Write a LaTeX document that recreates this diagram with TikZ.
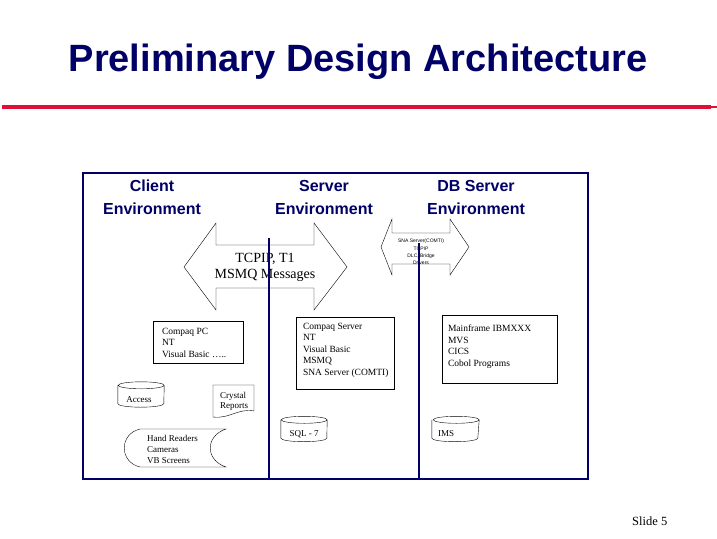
\documentclass[tikz,border=0pt]{standalone}
\usepackage{fontspec}
\setmainfont{Liberation Serif}
\setsansfont{Liberation Sans}
\usetikzlibrary{positioning}
\definecolor{azul}{RGB}{0,0,102}
\definecolor{rojo}{RGB}{222,16,56}

\begin{document}
\begin{tikzpicture}[x=1pt, y=-1pt,
    caja/.style={draw, rectangle, inner sep=0pt},
    texto/.style={align=left, inner sep=0pt, font=\fontsize{9.5}{11.5}\selectfont},
    encabezado/.style={text=azul, align=center, font=\sffamily\bfseries\fontsize{16}{23}\selectfont},
    base/.style={rectangle, minimum width=46pt, minimum height=25pt, inner sep=0pt},
    divisor/.style={draw=azul, line width=2pt}]
              \useasboundingbox (0,0) rectangle (717,538);
              % Titulo
              \node[text=azul, font=\sffamily\bfseries\fontsize{38}{40}\selectfont] (titulo) at (358,62) {Preliminary Design Architecture};
              \draw[rojo, line width=4pt] (2,107) -- (711,107);
              \draw[rojo, line width=2pt] (711,107) -- (717,107);

              % Marco
              \node[draw=azul, line width=1.5pt, minimum width=505pt, minimum height=306pt, inner sep=0pt] (marco) at (335.5,326) {};
              \node[encabezado] (cliente) at (152,197) {Client\\Environment};
              \node[encabezado] (servidor) at (324,197) {Server\\Environment};
              \node[encabezado] (dbserv) at (476,197) {DB Server\\Environment};

              % Flechas
              \draw (184,267) -- (216,223) -- (216,245) -- (314,245) -- (314,223) -- (347,267)
                -- (314,310) -- (314,288) -- (216,288) -- (216,310) -- cycle;
              \node[font=\fontsize{14}{16}\selectfont, align=center] (red) at (265,267) {TCPIP, T1\\MSMQ Messages};
              \draw (381,247) -- (392,219) -- (392,233) -- (450,233) -- (450,219) -- (469,247)
                -- (450,275) -- (450,264) -- (392,264) -- (392,275) -- cycle;
              \node[font=\sffamily\fontsize{5}{7.2}\selectfont, align=center] (sna) at (421,252) {SNA Server(COMTI)\\TCPIP\\DLC, Bridge\\Drivers};

              % Cajas
              \node[caja, minimum width=90pt, minimum height=42pt] (pc) at (198,342) {};
              \node[texto, below right=7pt and 9pt of pc.north west] (pctxt) {Compaq PC\\NT\\Visual Basic \dots..};
              \node[caja, minimum width=98pt, minimum height=72pt] (srv) at (345,353) {};
              \node[texto, below right=6pt and 7pt of srv.north west] (srvtxt) {Compaq Server\\NT\\Visual Basic\\MSMQ\\SNA Server (COMTI)};
              \node[caja, minimum width=115pt, minimum height=68pt] (mf) at (499.5,349) {};
              \node[texto, below right=10pt and 6pt of mf.north west] (mftxt) {Mainframe IBMXXX\\MVS\\CICS\\Cobol Programs};

              % Bases de datos
              \node[base] (access) at (141,394.5) {};
              \node[texto, font=\fontsize{9}{10}\selectfont] (accesstxt) at (139,400) {Access};
              \node[base] (sql) at (304,429) {};
              \node[texto, font=\fontsize{9}{10}\selectfont] (sqltxt) at (304,434) {SQL - 7};
              \node[base, minimum width=47pt] (ims) at (455.5,429) {};
              \node[texto, font=\fontsize{9}{10}\selectfont, anchor=west] (imstxt) at (438,434) {IMS};
              \foreach \db in {access, sql, ims}
                \draw ([yshift=-3.5pt]\db.north west) -- ([yshift=3.5pt]\db.south west)
                  arc[start angle=180, end angle=360, x radius=23pt, y radius=3.5pt]
                  -- ([yshift=-3.5pt]\db.north east)
                  arc[start angle=0, end angle=180, x radius=23pt, y radius=3.5pt]
                  arc[start angle=180, end angle=360, x radius=23pt, y radius=3.5pt];

              % Reportes y lectores
              \node[texto, font=\fontsize{9}{10}\selectfont, anchor=north west] (crystal) at (220,392.5) {Crystal\\Reports};
              \draw (213,385) -- (254,385) -- (254,411) .. controls (238,408) and (230,419) .. (213,417) -- cycle;
              \node[texto, font=\fontsize{9}{11}\selectfont, anchor=north west] (lectores) at (147,435) {Hand Readers\\Cameras\\VB Screens};
              \draw (140,429) -- (226,429) .. controls (205,436) and (205,460) .. (226,467) -- (140,467)
                .. controls (119,462) and (119,434) .. (140,429) -- cycle;

              % Separadores
              \draw[divisor] (269,238) -- (269,478);
              \draw[divisor] (419,243) -- (419,478);

              % Pie
              \node[font=\fontsize{12.5}{14}\selectfont, anchor=base west, inner sep=0pt] (pie) at (632,525) {Slide 5};
            \end{tikzpicture}
\end{document}
